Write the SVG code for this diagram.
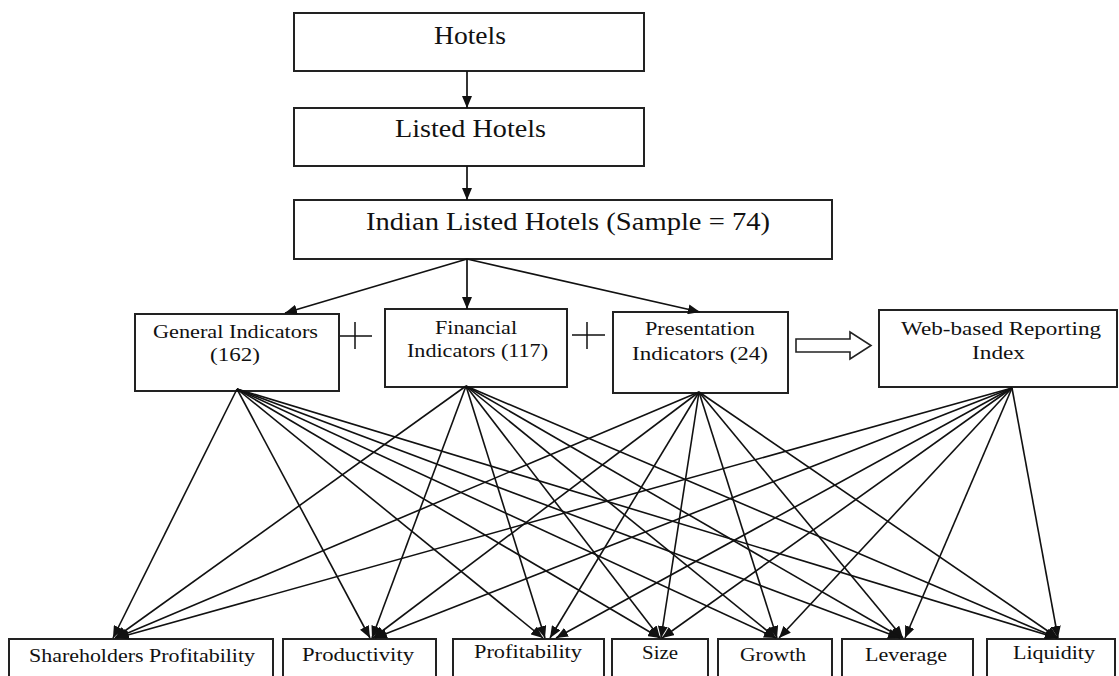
<svg xmlns="http://www.w3.org/2000/svg" width="1119" height="676" viewBox="0 0 1119 676">
<defs>
<marker id="ah" markerUnits="userSpaceOnUse" markerWidth="12" markerHeight="10" refX="12" refY="5" orient="auto">
<path d="M0,0 L12,5 L0,10 z" fill="#111"/>
</marker>
<marker id="ahs" markerUnits="userSpaceOnUse" markerWidth="12" markerHeight="10" refX="12" refY="5" orient="auto">
<path d="M0,0 L12,5 L0,10 z" fill="#111"/>
</marker>
<style>
.box{fill:#fff;stroke:#222;stroke-width:2}
.t{font-family:"Liberation Serif","Times New Roman",serif;fill:#111;text-anchor:start}
.big{font-size:25px}
.mid{font-size:19px}
.sm{font-size:18px}
.c{stroke:#111;stroke-width:1.5;fill:none}
.ct{stroke:#111;stroke-width:1.7;fill:none;marker-end:url(#ah)}
.cb{stroke:#111;stroke-width:1.6;fill:none;marker-end:url(#ahs)}
</style>
</defs>
<rect width="1119" height="676" fill="#fff"/>

<g id="node-hotels">
<rect class="box" x="294" y="13" width="350" height="58"/>
<text class="t big" x="434" y="44" textLength="72" lengthAdjust="spacingAndGlyphs">Hotels</text>
</g>
<g id="node-listed">
<rect class="box" x="294" y="108" width="350" height="58"/>
<text class="t big" x="395" y="137" textLength="151" lengthAdjust="spacingAndGlyphs">Listed Hotels</text>
</g>
<g id="node-indian">
<rect class="box" x="294" y="200" width="538" height="59"/>
<text class="t big" x="366" y="230" textLength="404" lengthAdjust="spacingAndGlyphs">Indian Listed Hotels (Sample = 74)</text>
</g>

<g id="node-general">
<rect class="box" x="135" y="314" width="204" height="77"/>
<text class="t mid" x="153" y="338" textLength="165" lengthAdjust="spacingAndGlyphs">General Indicators</text>
<text class="t mid" x="210" y="361" textLength="50" lengthAdjust="spacingAndGlyphs">(162)</text>
</g>
<g id="node-financial">
<rect class="box" x="385" y="309" width="182" height="78"/>
<text class="t mid" x="435" y="334" textLength="82" lengthAdjust="spacingAndGlyphs">Financial</text>
<text class="t mid" x="407" y="357" textLength="141" lengthAdjust="spacingAndGlyphs">Indicators (117)</text>
</g>
<g id="node-presentation">
<rect class="box" x="613" y="312" width="175" height="81"/>
<text class="t mid" x="645" y="335" textLength="110" lengthAdjust="spacingAndGlyphs">Presentation</text>
<text class="t mid" x="632" y="360" textLength="136" lengthAdjust="spacingAndGlyphs">Indicators (24)</text>
</g>
<g id="node-web">
<rect class="box" x="879" y="310" width="238" height="77"/>
<text class="t mid" x="901" y="335" textLength="200" lengthAdjust="spacingAndGlyphs">Web-based Reporting</text>
<text class="t mid" x="972" y="359" textLength="53" lengthAdjust="spacingAndGlyphs">Index</text>
</g>

<g id="plus-1"><path class="c" d="M340,336 H372 M355,322 V349"/></g>
<g id="plus-2"><path class="c" d="M572,335 H605 M587,322 V349"/></g>
<g id="hollow-arrow"><path d="M796,339 H850 V332 L871,345.5 L850,359 V352 H796 Z" fill="#fff" stroke="#222" stroke-width="1.6"/></g>

<g id="node-shareholders">
<rect class="box" x="9" y="639" width="264" height="50"/>
<text class="t sm" x="29" y="662" textLength="226" lengthAdjust="spacingAndGlyphs">Shareholders Profitability</text>
</g>
<g id="node-productivity">
<rect class="box" x="283" y="639" width="153" height="50"/>
<text class="t sm" x="302" y="661" textLength="112" lengthAdjust="spacingAndGlyphs">Productivity</text>
</g>
<g id="node-profitability">
<rect class="box" x="453" y="639" width="151" height="50"/>
<text class="t sm" x="474" y="658" textLength="108" lengthAdjust="spacingAndGlyphs">Profitability</text>
</g>
<g id="node-size">
<rect class="box" x="612" y="639" width="96" height="50"/>
<text class="t sm" x="642" y="659" textLength="36" lengthAdjust="spacingAndGlyphs">Size</text>
</g>
<g id="node-growth">
<rect class="box" x="718" y="639" width="114" height="50"/>
<text class="t sm" x="740" y="661" textLength="66" lengthAdjust="spacingAndGlyphs">Growth</text>
</g>
<g id="node-leverage">
<rect class="box" x="842" y="639" width="131" height="50"/>
<text class="t sm" x="865" y="661" textLength="82" lengthAdjust="spacingAndGlyphs">Leverage</text>
</g>
<g id="node-liquidity">
<rect class="box" x="987" y="639" width="128" height="50"/>
<text class="t sm" x="1013" y="659" textLength="82" lengthAdjust="spacingAndGlyphs">Liquidity</text>
</g>

<g id="connectors">
<line class="ct" x1="467" y1="71" x2="467" y2="108"/>
<line class="ct" x1="467" y1="166" x2="467" y2="200"/>
<line class="ct" x1="467" y1="259" x2="285" y2="313"/>
<line class="ct" x1="467" y1="259" x2="467" y2="309"/>
<line class="ct" x1="467" y1="259" x2="700" y2="312"/>

<!-- General -->
<line class="cb" x1="237" y1="389" x2="113" y2="638"/>
<line class="cb" x1="237" y1="389" x2="370" y2="638"/>
<line class="cb" x1="237" y1="389" x2="543" y2="638"/>
<line class="cb" x1="237" y1="389" x2="660" y2="638"/>
<line class="cb" x1="237" y1="389" x2="776" y2="638"/>
<line class="cb" x1="237" y1="389" x2="900" y2="638"/>
<line class="cb" x1="237" y1="389" x2="1057" y2="638"/>
<!-- Financial -->
<line class="cb" x1="466" y1="386" x2="115" y2="638"/>
<line class="cb" x1="466" y1="386" x2="372" y2="638"/>
<line class="cb" x1="466" y1="386" x2="545" y2="638"/>
<line class="cb" x1="466" y1="386" x2="660" y2="638"/>
<line class="cb" x1="466" y1="386" x2="776" y2="638"/>
<line class="cb" x1="466" y1="386" x2="902" y2="638"/>
<line class="cb" x1="466" y1="386" x2="1057" y2="638"/>
<!-- Presentation -->
<line class="cb" x1="699" y1="392" x2="116" y2="638"/>
<line class="cb" x1="699" y1="392" x2="373" y2="638"/>
<line class="cb" x1="699" y1="392" x2="550" y2="638"/>
<line class="cb" x1="699" y1="392" x2="661" y2="638"/>
<line class="cb" x1="699" y1="392" x2="777" y2="638"/>
<line class="cb" x1="699" y1="392" x2="903" y2="638"/>
<line class="cb" x1="699" y1="392" x2="1058" y2="638"/>
<!-- Web -->
<line class="cb" x1="1012" y1="388" x2="117" y2="638"/>
<line class="cb" x1="1012" y1="388" x2="375" y2="638"/>
<line class="cb" x1="1012" y1="388" x2="556" y2="638"/>
<line class="cb" x1="1012" y1="388" x2="662" y2="638"/>
<line class="cb" x1="1012" y1="388" x2="779" y2="638"/>
<line class="cb" x1="1012" y1="388" x2="905" y2="638"/>
<line class="cb" x1="1012" y1="388" x2="1058" y2="638"/>
</g>
</svg>
